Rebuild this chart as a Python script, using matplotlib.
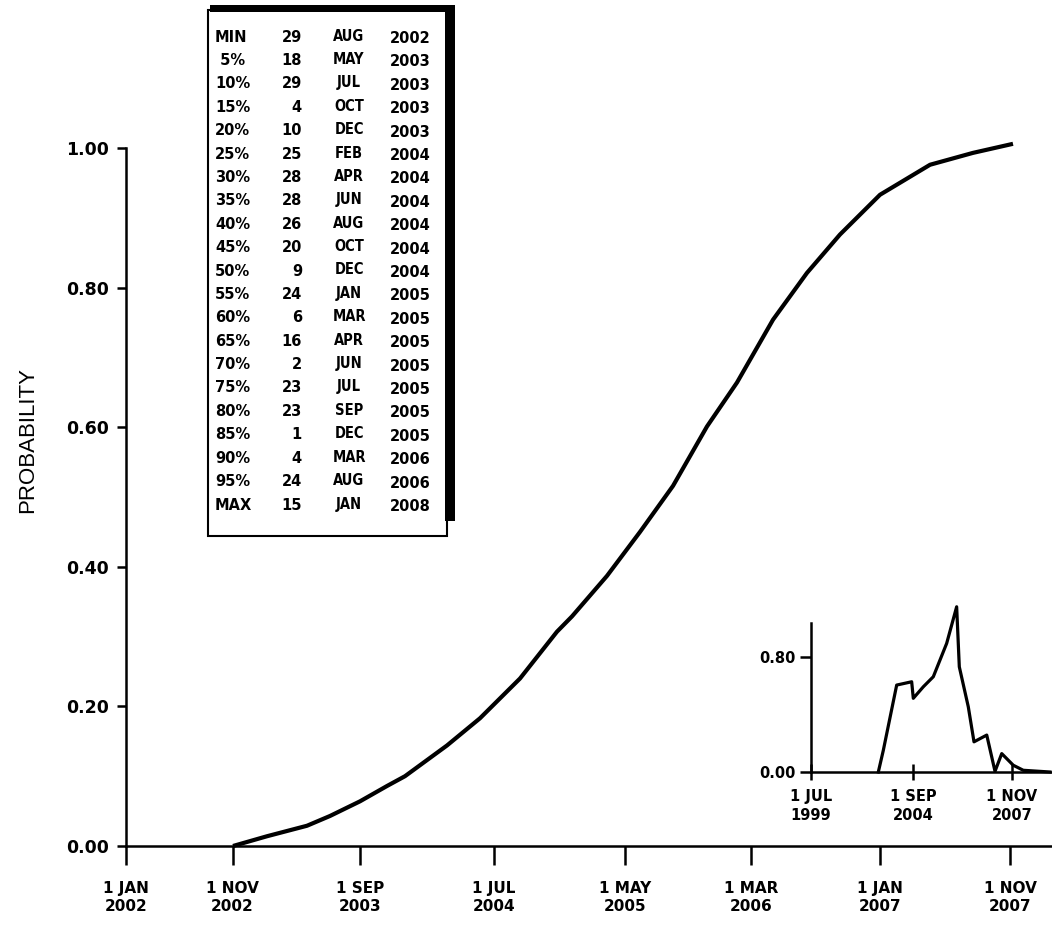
import matplotlib
matplotlib.use("Agg")
import matplotlib.pyplot as plt
from matplotlib.patches import Rectangle

# ---------------- data ----------------
# cumulative probability curve (x in axis units, one unit ~ tick spacing)
CDF_X = [0.823, 1.085, 1.392, 1.569, 1.800, 2.008, 2.146, 2.469, 2.723, 3.031,
         3.315, 3.431, 3.700, 3.954, 4.208, 4.469, 4.700, 4.977, 5.238, 5.492,
         5.800, 6.185, 6.515, 6.823]
CDF_P = [0.000, 0.014, 0.029, 0.043, 0.064, 0.086, 0.100, 0.144, 0.183, 0.240,
         0.307, 0.329, 0.387, 0.450, 0.516, 0.601, 0.664, 0.754, 0.821, 0.876,
         0.933, 0.976, 0.993, 1.006]
X_TICK_POS = [0.0, 0.82, 1.80, 2.83, 3.84, 4.81, 5.80, 6.80]
X_TICK_LABELS = ["1 JAN\n2002", "1 NOV\n2002", "1 SEP\n2003", "1 JUL\n2004",
                 "1 MAY\n2005", "1 MAR\n2006", "1 JAN\n2007", "1 NOV\n2007"]
Y_TICKS = [0.0, 0.2, 0.4, 0.6, 0.8, 1.0]
Y_TICK_LABELS = ["0.00", "0.20", "0.40", "0.60", "0.80", "1.00"]

# inset density curve
PDF_X = [0.660, 0.709, 0.840, 0.987, 1.003, 1.101, 1.199, 1.330, 1.428, 1.454,
         1.542, 1.598, 1.723, 1.804, 1.870, 1.983, 2.081, 2.343]
PDF_Y = [0.000, 0.151, 0.605, 0.628, 0.513, 0.593, 0.663, 0.895, 1.150, 0.732,
         0.454, 0.210, 0.257, 0.005, 0.128, 0.047, 0.012, 0.000]
INSET_X_TICK_POS = [0.0, 1.0, 1.97]
INSET_X_TICK_LABELS = ["1 JUL\n1999", "1 SEP\n2004", "1 NOV\n2007"]
INSET_Y_TICKS = [0.0, 0.8]
INSET_Y_TICK_LABELS = ["0.00", "0.80"]

# percentile table
PCT_LABELS = ["MIN", " 5%", "10%", "15%", "20%", "25%", "30%", "35%", "40%", "45%",
              "50%", "55%", "60%", "65%", "70%", "75%", "80%", "85%", "90%", "95%", "MAX"]
DAYS = [29, 18, 29, 4, 10, 25, 28, 28, 26, 20, 9, 24, 6, 16, 2, 23, 23, 1, 4, 24, 15]
MONTHS = ["AUG", "MAY", "JUL", "OCT", "DEC", "FEB", "APR", "JUN", "AUG", "OCT", "DEC",
          "JAN", "MAR", "APR", "JUN", "JUL", "SEP", "DEC", "MAR", "AUG", "JAN"]
YEARS = [2002, 2003, 2003, 2003, 2003, 2004, 2004, 2004, 2004, 2004, 2004,
         2005, 2005, 2005, 2005, 2005, 2005, 2005, 2006, 2006, 2008]

# ---------------- figure ----------------
W, H = 1052, 927
fig = plt.figure(figsize=(W / 100, H / 100), dpi=100)
fig.patch.set_facecolor("white")

BOLD = "DejaVu Sans"

# main axes
ax = fig.add_axes([126 / W, (H - 846) / H, (W - 126) / W, (846 - 148) / H])
ax.patch.set_alpha(0)
ax.plot(CDF_X, CDF_P, color="black", lw=3.0, clip_on=False, solid_capstyle="butt")
ax.set_xlim(0, (W - 126) / 130)
ax.set_ylim(0, 1.0)
for s in ("top", "right"):
    ax.spines[s].set_visible(False)
for s in ("left", "bottom"):
    ax.spines[s].set_linewidth(1.8)
ax.set_xticks(X_TICK_POS, X_TICK_LABELS)
ax.set_yticks(Y_TICKS, Y_TICK_LABELS)
ax.tick_params(axis="x", direction="out", length=14, width=1.8, pad=11)
ax.tick_params(axis="y", direction="out", length=6.5, width=1.8, pad=6)
for lab in ax.get_xticklabels():
    lab.set_fontfamily(BOLD)
    lab.set_fontweight("bold")
    lab.set_fontsize(11)
    lab.set_linespacing(1.3)
for lab in ax.get_yticklabels():
    lab.set_fontfamily(BOLD)
    lab.set_fontweight("bold")
    lab.set_fontsize(12.5)

fig.text(28 / W, 1 - 440 / H, "PROBABILITY", rotation=90, ha="center", va="center",
         fontsize=16, family="Liberation Sans")

# table overlay
tab = fig.add_axes([0, 0, 1, 1])
tab.set_xlim(0, W)
tab.set_ylim(H, 0)
tab.axis("off")
tab.patch.set_alpha(0)
tab.add_patch(Rectangle((208, 10), 239, 526, facecolor="white", edgecolor="black", lw=1.5))
tab.add_patch(Rectangle((210, 5), 245, 7, facecolor="black", edgecolor="none"))
tab.add_patch(Rectangle((445, 5), 10, 516, facecolor="black", edgecolor="none"))
y0, dy = 37, 23.4
for i in range(len(PCT_LABELS)):
    y = y0 + i * dy
    tab.text(215, y, PCT_LABELS[i], ha="left", va="center", fontsize=10.5,
             family=BOLD, weight="bold")
    tab.text(302, y, str(DAYS[i]), ha="right", va="center", fontsize=10.5,
             family=BOLD, weight="bold")
    tab.text(349, y - 1, MONTHS[i], ha="center", va="center", fontsize=10.5,
             family=BOLD, weight="bold", stretch="condensed")
    tab.text(390, y + 1.5, str(YEARS[i]), ha="left", va="center", fontsize=10.5,
             family=BOLD, weight="bold")

# inset
axi = fig.add_axes([811 / W, (H - 772) / H, (W - 811) / W, (772 - 623) / H])
axi.patch.set_alpha(0)
axi.plot(PDF_X, PDF_Y, color="black", lw=2.3, clip_on=False)
axi.set_xlim(0, (W - 811) / 102)
axi.set_ylim(0, 1.037)
for s in ("top", "right"):
    axi.spines[s].set_visible(False)
for s in ("left", "bottom"):
    axi.spines[s].set_linewidth(1.8)
axi.set_xticks(INSET_X_TICK_POS, INSET_X_TICK_LABELS)
axi.set_yticks(INSET_Y_TICKS, INSET_Y_TICK_LABELS)
axi.tick_params(axis="x", direction="inout", length=12, width=1.8, pad=6)
axi.tick_params(axis="y", direction="out", length=8, width=1.8, pad=3)
for lab in axi.get_xticklabels():
    lab.set_fontfamily(BOLD)
    lab.set_fontweight("bold")
    lab.set_fontsize(10.5)
    lab.set_linespacing(1.4)
for lab in axi.get_yticklabels():
    lab.set_fontfamily(BOLD)
    lab.set_fontweight("bold")
    lab.set_fontsize(10.5)

fig.savefig("out.png", dpi=100, facecolor="white")
